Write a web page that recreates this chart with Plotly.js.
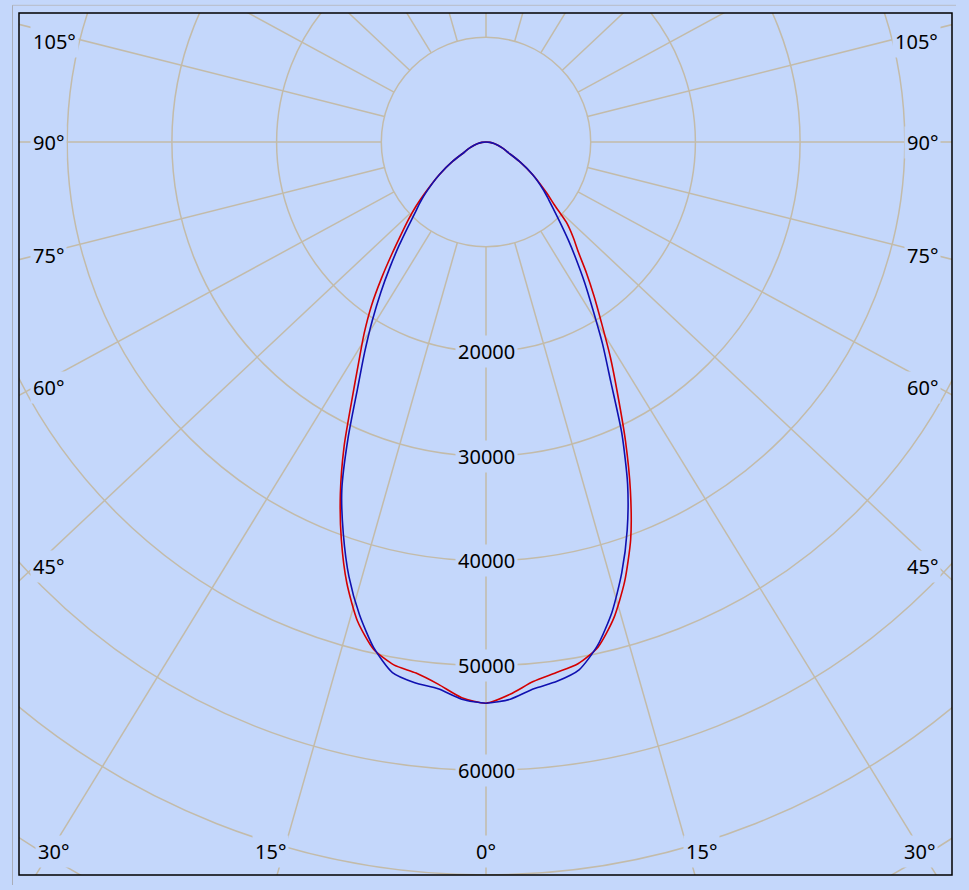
<!DOCTYPE html>
<html>
<head>
<meta charset="utf-8">
<script src="https://cdn.plot.ly/plotly-3.0.1.min.js"></script>
<style>
html,body{margin:0;padding:0;background:#c4d7fb;}
#chart{width:969px;height:890px;}
</style>
</head>
<body>
<div id="chart"></div>
<script>
// ---------- data (luminous intensity, cd) ----------
const gammaDeg = [0, 2.5, 5, 7.5, 10, 12.5, 15, 17.5, 20, 22.5, 25, 27.5, 30, 32.5, 35, 37.5, 40, 42.5, 45, 47.5, 50, 55, 60, 65, 70, 75, 80, 85, 90];
const redLeft   = [53600, 53120, 52000, 51160, 50710, 49620, 47390, 44190, 40400, 36350, 32070, 27730, 24330, 21650, 19060, 16390, 14000, 12030, 10480, 9050, 7650, 5450, 3660, 2260, 1690, 1170, 780, 390, 0];
const redRight  = [53600, 52800, 51730, 51130, 50600, 49420, 47110, 44030, 40400, 36040, 31530, 27270, 23770, 20570, 18010, 15760, 13720, 12310, 10870, 8800, 7550, 5450, 3660, 2260, 1690, 1170, 780, 390, 0];
const blueLeft  = [53600, 53270, 52420, 52090, 51460, 49490, 46720, 43530, 39840, 35990, 31160, 26580, 23180, 20210, 17510, 15060, 12930, 11080, 9610, 8530, 7450, 5450, 3660, 2260, 1690, 1170, 780, 390, 0];
const blueRight = [53600, 53270, 52420, 51950, 51190, 49250, 46490, 43130, 39430, 35340, 30690, 25810, 22260, 19020, 16460, 14170, 12240, 10540, 9160, 8100, 7200, 5450, 3660, 2260, 1690, 1170, 780, 390, 0];

const ringValues = [10000, 20000, 30000, 40000, 50000, 60000, 70000, 80000];
const ringLabelValues = [20000, 30000, 40000, 50000, 60000];
const spokeAngles = [0, 15, 30, 45, 60, 75, 90, 105, 120, 135, 150, 165, 180, 195, 210, 225, 240, 255, 270, 285, 300, 315, 330, 345];
const angleTickValues = [0, 15, 30, 45, 60, 75, 90, 105];

// ---------- geometry / styling ----------
const W = 969, H = 890;
const M = {l: 19, r: 17, t: 13, b: 15};
const PX_PER_10K = 104.7;
const U = 10000 / PX_PER_10K;           // cd per pixel
const poleX = 486, poleY = 142;          // pole position in page pixels
const xRange = [-(poleX - M.l) * U, (W - M.r - poleX) * U];
const yRange = [-(H - M.b - poleY) * U, (poleY - M.t) * U];
const kSpoke = 0.94, kLabel = 0.91;
const BG = '#c4d7fb';
const GRID = '#c3bba9';
const FONT = {family: 'Noto Sans, DejaVu Sans, sans-serif', size: 20, color: '#000'};
const rad = d => d * Math.PI / 180;

function curveXY(left, right) {
  const x = [], y = [];
  for (let i = gammaDeg.length - 1; i >= 0; i--) {
    const g = rad(gammaDeg[i]);
    x.push(-left[i] * Math.sin(g)); y.push(-left[i] * Math.cos(g));
  }
  for (let i = 1; i < gammaDeg.length; i++) {
    const g = rad(gammaDeg[i]);
    x.push(right[i] * Math.sin(g)); y.push(-right[i] * Math.cos(g));
  }
  return {x, y};
}

const red = curveXY(redLeft, redRight);
const blue = curveXY(blueLeft, blueRight);

const traces = [
  {x: red.x, y: red.y, type: 'scatter', mode: 'lines', line: {color: '#d40000', width: 1.6, shape: 'spline', smoothing: 0.65}, hoverinfo: 'skip', showlegend: false},
  {x: blue.x, y: blue.y, type: 'scatter', mode: 'lines', line: {color: '#1010b0', width: 1.6, shape: 'spline', smoothing: 0.65}, hoverinfo: 'skip', showlegend: false}
];

const shapes = [];
ringValues.forEach(r => shapes.push({type: 'circle', xref: 'x', yref: 'y', x0: -r, x1: r, y0: -r, y1: r,
  line: {color: GRID, width: 1.5}, layer: 'below'}));
spokeAngles.forEach(a => {
  let dx = Math.sin(rad(a)), dy = -kSpoke * Math.cos(rad(a));
  const n = Math.hypot(dx, dy); dx /= n; dy /= n;
  const r0 = ringValues[0], r1 = 300000;
  shapes.push({type: 'line', xref: 'x', yref: 'y', x0: r0 * dx, y0: r0 * dy, x1: r1 * dx, y1: r1 * dy,
    line: {color: GRID, width: 1.5}, layer: 'below'});
});
// frame
shapes.push({type: 'rect', xref: 'paper', yref: 'paper', x0: 0, x1: 1, y0: 0, y1: 1, line: {color: '#000', width: 1.5}, layer: 'above'});
// outer thin lines
const pw = W - M.l - M.r, ph = H - M.t - M.b;
const px2paperX = p => (p - M.l) / pw, px2paperY = p => (H - M.b - p) / ph;
shapes.push({type: 'line', xref: 'paper', yref: 'paper', x0: px2paperX(12.5), x1: px2paperX(12.5), y0: px2paperY(5), y1: px2paperY(885), line: {color: '#a9adb8', width: 1}});
shapes.push({type: 'line', xref: 'paper', yref: 'paper', x0: px2paperX(12.5), x1: px2paperX(956), y0: px2paperY(5.3), y1: px2paperY(5.3), line: {color: '#b8bcc8', width: 1}});

const annotations = [];
const BP = 2;
ringLabelValues.forEach(v => annotations.push({x: 0, y: -v, xref: 'x', yref: 'y', text: String(v), showarrow: false,
  font: FONT, bgcolor: BG, borderpad: BP, xanchor: 'center', yanchor: 'middle'}));

// angle labels where spokes meet the frame
const leftPx = poleX - M.l, bottomPx = H - M.b - poleY, topPx = poleY - M.t;
angleTickValues.forEach(a => {
  const s = Math.sin(rad(a)), c = kLabel * Math.cos(rad(a));
  const tSide = s > 1e-9 ? leftPx / s : Infinity;
  const tBottom = c > 1e-9 ? bottomPx / c : Infinity;
  const tTop = c < -1e-9 ? topPx / -c : Infinity;
  const t = Math.min(tSide, tBottom, tTop);
  if (t === tTop) return;
  const txt = a + '°';
  if (t === tSide) {
    let yPx = Math.min(c * t, bottomPx - 24);
    yPx = Math.max(yPx, -(topPx - 28));
    [-1, 1].forEach(side => annotations.push({
      x: side < 0 ? xRange[0] + (13 - BP) * U : xRange[1] - (13 - BP) * U,
      y: -yPx * U, xref: 'x', yref: 'y', text: txt, showarrow: false, font: FONT, bgcolor: BG, borderpad: BP,
      xanchor: side < 0 ? 'left' : 'right', yanchor: 'middle'}));
  } else {
    const xPx = Math.min(s * t, leftPx - 34);
    const sides = a === 0 ? [1] : [-1, 1];
    sides.forEach(side => annotations.push({
      x: side * xPx * U, y: yRange[0] + 24 * U, xref: 'x', yref: 'y', text: txt, showarrow: false,
      font: FONT, bgcolor: BG, borderpad: BP, xanchor: 'center', yanchor: 'middle'}));
  }
});

const layout = {
  width: W, height: H,
  margin: M,
  paper_bgcolor: BG, plot_bgcolor: BG,
  showlegend: false,
  xaxis: {range: xRange, visible: false, showgrid: false, zeroline: false, fixedrange: true},
  yaxis: {range: yRange, visible: false, showgrid: false, zeroline: false, fixedrange: true},
  shapes: shapes,
  annotations: annotations,
  font: FONT
};

Plotly.newPlot('chart', traces, layout, {staticPlot: true, displayModeBar: false});
</script>
</body>
</html>
